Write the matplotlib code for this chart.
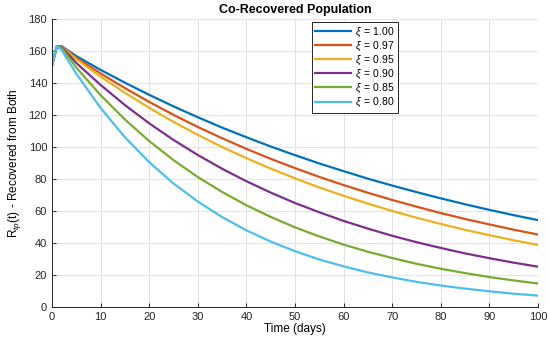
import matplotlib
matplotlib.use('Agg')
import matplotlib.pyplot as plt

plt.rcParams['font.family'] = ['Liberation Sans', 'DejaVu Sans']
plt.rcParams['mathtext.fontset'] = 'custom'
plt.rcParams['mathtext.it'] = 'Liberation Sans:italic'
plt.rcParams['mathtext.rm'] = 'Liberation Sans'

# time axis (days)
t = [0, 1, 2, 5, 10, 15, 20, 25, 30, 35, 40, 45, 50, 55, 60, 65, 70, 75, 80, 85, 90, 95, 100]

xi_labels = ['1.00', '0.97', '0.95', '0.90', '0.85', '0.80']

r_100 = [151, 163, 163.0, 156.8, 148.2, 140.2, 132.6, 125.4, 118.6, 112.1, 106.1, 100.3, 94.9,
         89.7, 84.9, 80.2, 75.9, 71.8, 67.9, 64.2, 60.7, 57.4, 54.3]
r_097 = [151, 163, 162.9, 155.7, 146.0, 136.8, 128.2, 120.1, 112.5, 105.5, 98.8, 92.6, 86.8,
         81.3, 76.2, 71.4, 66.9, 62.7, 58.7, 55.0, 51.6, 48.3, 45.3]
r_095 = [151, 163, 162.8, 154.9, 144.0, 133.9, 124.5, 115.7, 107.6, 100.0, 93.0, 86.5, 80.4,
         74.7, 69.5, 64.6, 60.0, 55.8, 51.9, 48.2, 44.9, 41.7, 38.8]
r_090 = [151, 163, 162.5, 152.5, 138.8, 126.2, 114.8, 104.4, 95.0, 86.4, 78.6, 71.5, 65.0,
         59.2, 53.8, 49.0, 44.5, 40.5, 36.9, 33.5, 30.5, 27.7, 25.2]
r_085 = [151, 163, 162.0, 149.6, 132.4, 117.2, 103.7, 91.8, 81.2, 71.9, 63.6, 56.3, 49.8,
         44.1, 39.0, 34.5, 30.6, 27.0, 23.9, 21.2, 18.7, 16.6, 14.7]
r_080 = [151, 163, 160.5, 145.8, 124.4, 106.1, 90.5, 77.2, 65.9, 56.2, 47.9, 40.9, 34.9,
         29.7, 25.4, 21.6, 18.5, 15.7, 13.4, 11.5, 9.8, 8.3, 7.1]

series = [r_100, r_097, r_095, r_090, r_085, r_080]
colors = ['#0072BD', '#D95319', '#EDB120', '#7E2F8E', '#77AC30', '#4DBEEE']

fig = plt.figure(figsize=(5.5, 3.48), dpi=100)
ax = fig.add_axes([52/550, 41/348, 486/550, 288/348])

for y, c, lab in zip(series, colors, xi_labels):
    ax.plot(t, y, color=c, linewidth=1.6, label=r'$\xi\,$ = ' + lab)

ax.set_xlim(0, 100)
ax.set_ylim(0, 180)
ax.set_xticks(range(0, 101, 10))
ax.set_yticks(range(0, 181, 20))
ax.grid(True, color='#e3e3e3', linewidth=0.7)
ax.set_axisbelow(True)
for s in ['top', 'right']:
    ax.spines[s].set_visible(False)
for s in ['left', 'bottom']:
    ax.spines[s].set_color('#262626')
    ax.spines[s].set_linewidth(0.7)
ax.tick_params(direction='in', length=3, width=0.7, colors='#262626', labelsize=8)

ax.set_title('Co-Recovered Population', fontsize=9, fontweight='bold', pad=4)
ax.set_xlabel('Time (days)', fontsize=8.5, labelpad=1)
ax.set_ylabel('R$_{tp}$(t) - Recovered from Both', fontsize=8.5, labelpad=4)

leg = ax.legend(loc='upper left', bbox_to_anchor=(0.534, 0.99), borderaxespad=0,
                fontsize=7.5, fancybox=False, edgecolor='#262626', framealpha=1,
                handlelength=3.4, handletextpad=0.4, labelspacing=0.08, borderpad=0.35)
leg.get_frame().set_linewidth(0.7)

fig.savefig('out.png', dpi=100)
